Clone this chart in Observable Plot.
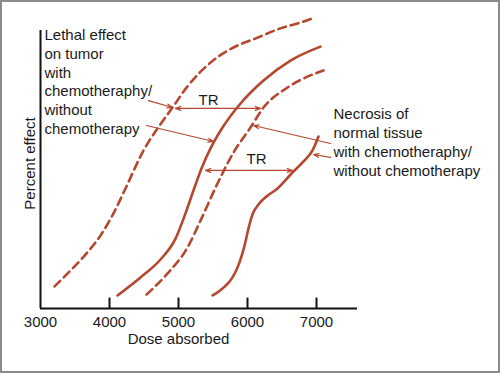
<!DOCTYPE html>
<html>
<head>
<meta charset="utf-8">
<script src="https://cdn.jsdelivr.net/npm/d3@7"></script>
<script src="https://cdn.jsdelivr.net/npm/@observablehq/plot@0.6"></script>
<style>
  html, body { margin: 0; padding: 0; background: #fff; }
  #chart svg { display: block; outline: 2px solid #8c8c8c; outline-offset: -2px; }
</style>
</head>
<body>
<div id="chart"></div>
<script>
// Dose values (x) and percent effect (y) for each curve
const tumorWithChemoDose   = [3203, 3435, 3652, 3870, 4058, 4232, 4493, 4696, 4913, 5130, 5464, 5797, 6145, 6478, 6768, 6942];
const tumorWithChemoEffect = [7.6, 13.1, 18.6, 25.2, 32.8, 41.4, 54.5, 62.1, 69.3, 76.6, 84.8, 90.0, 93.4, 96.6, 98.6, 100];

const tumorWithoutChemoDose   = [4116, 4449, 4739, 4957, 5101, 5217, 5333, 5464, 5638, 5899, 6232, 6623, 7058];
const tumorWithoutChemoEffect = [4.5, 10.7, 16.9, 24.1, 32.8, 40.7, 48.3, 55.2, 62.4, 70.7, 78.6, 85.5, 90.3];

const normalWithChemoDose   = [4536, 4841, 5130, 5319, 5565, 5797, 6043, 6232, 6580, 7101];
const normalWithChemoEffect = [4.8, 12.1, 21.0, 30.3, 43.1, 53.8, 62.4, 69.3, 76.2, 82.1];

const normalWithoutChemoDose   = [5493, 5638, 5783, 5884, 5957, 6014, 6072, 6159, 6275, 6435, 6652, 6812, 6942, 7029];
const normalWithoutChemoEffect = [4.5, 6.9, 10.7, 15.9, 21.7, 27.6, 32.4, 35.9, 38.6, 41.4, 46.9, 50.7, 54.5, 59.3];

const xTickValues = [3000, 4000, 5000, 6000, 7000];
const xTickMarks = [4000, 5000, 6000, 7000];

const leftLabel = "Lethal effect\non tumor\nwith\nchemotheraphy/\nwithout\nchemotherapy";
const rightLabel = "Necrosis of\nnormal tissue\nwith chemotheraphy/\nwithout chemotherapy";

// Annotation anchors (data units)
const leftLabelPos = {x: 3058, y: 97.1};
const rightLabelPos = {x: 7246, y: 70.2};
// pointer arrows: [x1, y1, x2, y2]
const pointerArrows = [
  [4565, 71.7, 4913, 69.3],
  [4536, 63.1, 5507, 57.6],
  [7203, 56.9, 6087, 63.1],
  [7203, 52.1, 6957, 53.1]
];
// therapeutic ratio double arrows: [xStart, xEnd, y]
const trArrows = [
  [4956, 6188, 69.0],
  [5391, 6652, 47.6]
];
const trLabels = [
  {x: 5435, y: 71.7},
  {x: 6130, y: 51.4}
];

const red = "#b5472f";
const font = "'Liberation Sans', Arial, Helvetica, sans-serif";

const toPts = (xs, ys) => xs.map((x, i) => ({x, y: ys[i]}));

const doubleArrows = [];
trArrows.forEach(([a, b, y]) => {
  const m = (a + b) / 2;
  doubleArrows.push({x1: m, x2: a, y}, {x1: m, x2: b, y});
});

const lineOpts = {x: "x", y: "y", stroke: red, strokeWidth: 2.6, curve: "monotone-x"};

const chart = Plot.plot({
  width: 500,
  height: 373,
  marginLeft: 40,
  marginRight: 143,
  marginTop: 18,
  marginBottom: 65,
  style: {fontFamily: font, fontSize: "15px", color: "#1a1a1a", background: "#fff"},
  x: {domain: [3000, 7594], axis: null},
  y: {domain: [0, 100], axis: null},
  marks: [
    Plot.line(toPts(tumorWithChemoDose, tumorWithChemoEffect), {...lineOpts, strokeDasharray: "8,5"}),
    Plot.line(toPts(tumorWithoutChemoDose, tumorWithoutChemoEffect), lineOpts),
    Plot.line(toPts(normalWithChemoDose, normalWithChemoEffect), {...lineOpts, strokeDasharray: "8,5"}),
    Plot.line(toPts(normalWithoutChemoDose, normalWithoutChemoEffect), lineOpts),
    // axes
    Plot.ruleY([0], {stroke: "#111", strokeWidth: 2}),
    Plot.ruleX([3000], {y1: 0, y2: 95.9, stroke: "#111", strokeWidth: 2}),
    Plot.ruleX(xTickMarks, {y1: 0, y2: 3.6, stroke: "#111", strokeWidth: 2}),
    Plot.axisX({ticks: xTickValues, tickSize: 0, tickPadding: 8, fontSize: 15, tickFormat: d => String(d)}),
    Plot.text(["Dose absorbed"], {x: 5000, frameAnchor: "bottom", dy: 35, fontSize: 15}),
    Plot.text(["Percent effect"], {frameAnchor: "left", y: 50, dx: -10, rotate: -90, textAnchor: "middle", fontSize: 15}),
    // annotations
    Plot.text([leftLabel], {x: leftLabelPos.x, y: leftLabelPos.y, textAnchor: "start", lineAnchor: "top", lineHeight: 1.25, fontSize: 15}),
    Plot.text([rightLabel], {x: rightLabelPos.x, y: rightLabelPos.y, textAnchor: "start", lineAnchor: "top", lineHeight: 1.28, fontSize: 15}),
    Plot.arrow(pointerArrows, {x1: d => d[0], y1: d => d[1], x2: d => d[2], y2: d => d[3], stroke: red, strokeWidth: 1.2, headLength: 7, headAngle: 40}),
    Plot.arrow(doubleArrows, {x1: "x1", x2: "x2", y1: "y", y2: "y", stroke: red, strokeWidth: 1.2, headLength: 7, headAngle: 40}),
    Plot.text(trLabels, {x: "x", y: "y", text: () => "TR", fontSize: 15})
  ]
});
document.getElementById("chart").appendChild(chart);
</script>
</body>
</html>
